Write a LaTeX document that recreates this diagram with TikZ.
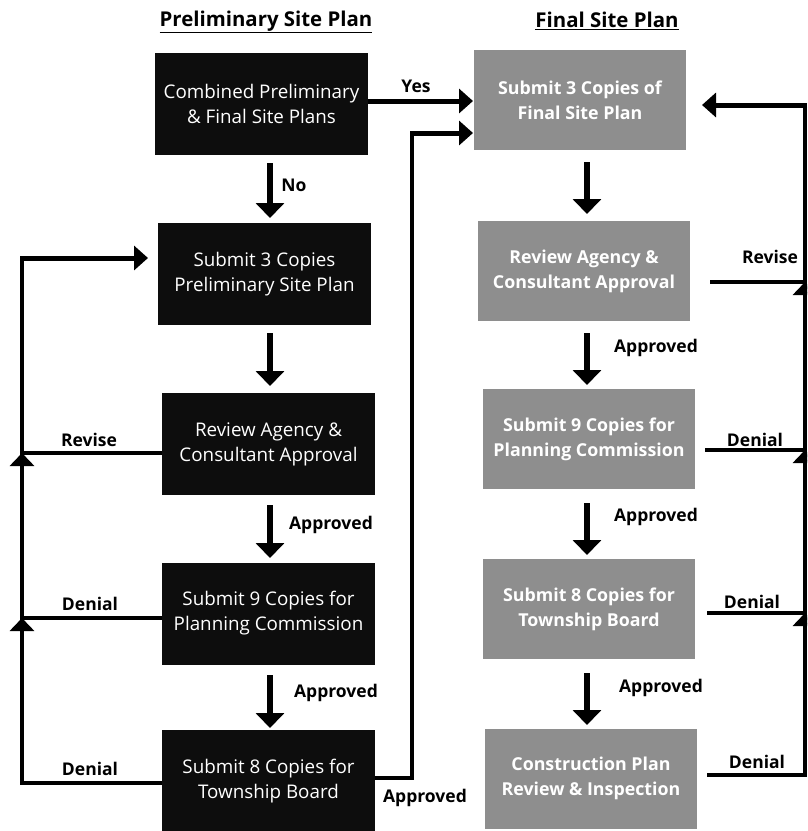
\documentclass[tikz,border=0pt]{standalone}
\usepackage{fontspec}
\setmainfont{Open Sans}
\usetikzlibrary{arrows.meta}
\definecolor{boxgray}{HTML}{8E8E8E}
\tikzset{
  lbox/.style={fill=black!95, text=white, minimum width=213pt, minimum height=102pt, inner sep=0pt, align=center, font=\fontsize{18.8}{25}\selectfont},
  gbox/.style={fill=boxgray, text=white, minimum width=212pt, minimum height=100pt, inner sep=0pt, align=center, font=\fontsize{17.8}{25}\selectfont\bfseries},
  lbl/.style={font=\fontsize{17.5}{19}\selectfont\bfseries, inner sep=0pt},
  ttl/.style={font=\fontsize{20.4}{22}\selectfont\bfseries, inner sep=0pt},
  dn/.style={line width=5.5pt, -{Triangle[width=28pt,length=15pt]}},
  hr/.style={line width=5pt, -{Triangle[width=24pt,length=14pt]}},
  fb/.style={line width=4.5pt},
  upt/.style={line width=4pt, -{Triangle[width=24pt,length=13pt]}},
}
\begin{document}
\begin{tikzpicture}[x=1pt,y=-1pt]
\useasboundingbox (0,0) rectangle (807,831);
\clip (0,0) rectangle (807,831);
% titles
\node[ttl] (t1) at (266,22) {\underline{Preliminary Site Plan}};
\node[ttl] (t2) at (607,21) {\underline{Final Site Plan}};
% left boxes
\node[lbox] (B1) at (261.5,104) {Combined Preliminary\\\& Final Site Plans};
\node[lbox] (B2) at (264.5,274) {Submit 3 Copies\\Preliminary Site Plan};
\node[lbox] (B3) at (268.5,444) {Review Agency \&\\Consultant Approval};
\node[lbox] (B4) at (268.5,613.5) {Submit 9 Copies for\\Planning Commission};
\node[lbox] (B5) at (268.5,781) {Submit 8 Copies for\\Township Board};
% right boxes
\node[gbox] (G1) at (580,100) {Submit 3 Copies of\\Final Site Plan};
\node[gbox] (G2) at (584,271) {Review Agency \&\\Consultant Approval};
\node[gbox] (G3) at (589,439) {Submit 9 Copies for\\Planning Commission};
\node[gbox] (G4) at (589,609) {Submit 8 Copies for\\Township Board};
\node[gbox] (G5) at (591,778.5) {Construction Plan\\Review \& Inspection};
% left down arrows
\draw[dn] (270,163) -- (270,218);
\draw[dn] (270,333) -- (270,386);
\draw[dn] (270,505) -- (270,558);
\draw[dn] (270,675) -- (270,728);
\node[lbl] (lno) at (294,185) {No};
\node[lbl] (la1) at (331,525) {Approved};
\node[lbl] (la2) at (336,693) {Approved};
% right down arrows
\draw[dn] (587,162) -- (587,214);
\draw[dn] (587,333) -- (587,385);
\draw[dn] (587,503) -- (587,555);
\draw[dn] (587,673) -- (587,725);
\node[lbl] (ra0) at (656,348) {Approved};
\node[lbl] (ra1) at (656,517) {Approved};
\node[lbl] (ra2) at (661,688) {Approved};
% Yes arrow
\coordinate (yesend) at (473,101);
\draw[hr] (B1.east |- 0,101) -- (yesend);
\node[lbl] (lyes) at (416,86) {Yes};
% Approved from B5 to G1
\coordinate (apA) at (412,778);
\coordinate (apB) at (412,133);
\coordinate (apend) at (473,133);
\draw[fb, line width=4pt] (B5.east |- 0,778) -- (apA) -- (apB) -- ++(-2,0);
\draw[hr] (410,133) -- (apend);
\node[lbl] (lap) at (425,798) {Approved};
% left feedback loop
\coordinate (L1) at (22,453);
\coordinate (L2) at (22,618);
\coordinate (L3) at (22,783);
\coordinate (L0) at (22,258);
\coordinate (l2end) at (148,258);
\draw[fb] (B3.west |- 0,453) -- (L1);
\draw[fb] (B4.west |- 0,618) -- (L2);
\draw[fb] (B5.west |- 0,783) -- (L3) -- (L0) -- (30,258);
\draw[hr] (20,258) -- (l2end);
\draw[upt] (22,475) -- (L1);
\draw[upt] (22,640) -- (L2);
\node[lbl] (lrev) at (89,440) {Revise};
\node[lbl] (lden1) at (90,604) {Denial};
\node[lbl] (lden2) at (90,769) {Denial};
% right feedback loop
\coordinate (R0) at (805,105);
\coordinate (R1) at (805,282);
\coordinate (R2) at (805,450);
\coordinate (R3) at (805,613);
\coordinate (R4) at (805,775);
\coordinate (r1end) at (702,105);
\draw[fb] (710,282) -- (R1);
\draw[fb] (705,450) -- (R2);
\draw[fb] (707,613) -- (R3);
\draw[fb] (707,775) -- (R4) -- (R0) -- (797,105);
\draw[hr] (807,105) -- (r1end);
\draw[upt] (805,302) -- (R1);
\draw[upt] (805,470) -- (R2);
\draw[upt] (805,633) -- (R3);
\node[lbl] (rrev) at (770,257) {Revise};
\node[lbl] (rden1) at (755,440) {Denial};
\node[lbl] (rden2) at (752,602) {Denial};
\node[lbl] (rden3) at (757,762) {Denial};
\end{tikzpicture}
\end{document}
